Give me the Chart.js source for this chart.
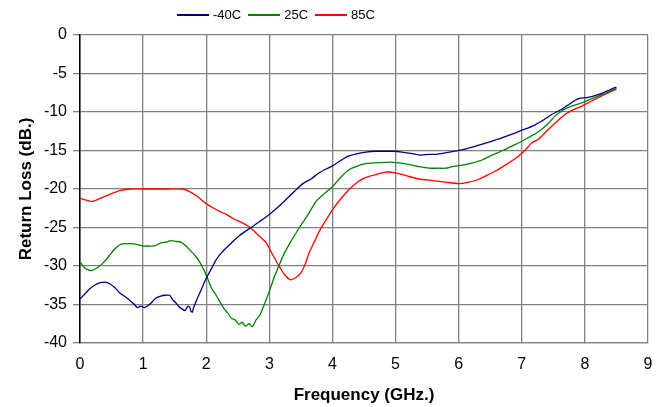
<!DOCTYPE html>
<html>
<head>
<meta charset="utf-8">
<script src="https://cdn.jsdelivr.net/npm/chart.js@4"></script>
<style>
  body { margin: 0; background: #fff; }
  #wrap { position: relative; width: 670px; height: 407px; }
  #legend { position: absolute; top: 7px; left: 177px; font: 13px "Liberation Sans", Arial, sans-serif; color: #000; display: flex; align-items: center; }
  #legend span.key { display: inline-block; width: 32px; height: 0; border-top: 2px solid; margin-right: 4px; }
  #legend span.item { display: inline-flex; align-items: center; margin-right: 7px; }
</style>
</head>
<body>
<div id="wrap">
  <canvas id="chart" width="670" height="407"></canvas>
  <div id="legend"></div>
</div>
<script>
// -40C
var freqCold = [0, 0.08, 0.15, 0.23, 0.31, 0.4, 0.47, 0.55, 0.63, 0.7, 0.78, 0.85, 0.91, 0.96, 1.02, 1.1, 1.2, 1.28, 1.36, 1.42,
    1.47, 1.52, 1.57, 1.62, 1.66, 1.68, 1.71, 1.74, 1.76, 1.78, 1.8, 1.82, 1.86, 1.92, 2.0, 2.08, 2.15, 2.23, 2.31, 2.4,
    2.52, 2.62, 2.73, 2.85, 3.0, 3.13, 3.26, 3.4, 3.53, 3.66, 3.79, 3.9, 4.0, 4.13, 4.26, 4.4, 4.53, 4.7, 4.85, 4.95,
    5.1, 5.27, 5.4, 5.53, 5.65, 5.79, 5.92, 6.06, 6.2, 6.32, 6.48, 6.64, 6.77, 6.9, 7.06, 7.2, 7.35, 7.48, 7.62, 7.75,
    7.82, 7.9, 8.05, 8.22, 8.35, 8.48, 8.5];
var lossCold = [-34.3, -33.6, -33.0, -32.5, -32.2, -32.1, -32.3, -32.8, -33.5, -33.9, -34.4, -34.9, -35.4, -35.2, -35.4, -35.0, -34.2, -33.9, -33.8, -33.8,
    -34.4, -34.8, -35.3, -35.6, -35.8, -35.6, -35.2, -35.4, -35.9, -36.0, -35.4, -35.0, -34.2, -33.1, -31.6, -30.4, -29.3, -28.4, -27.7, -27.0,
    -26.1, -25.5, -24.9, -24.2, -23.3, -22.4, -21.4, -20.3, -19.3, -18.7, -17.9, -17.4, -17.0, -16.3, -15.7, -15.4, -15.2, -15.1, -15.1, -15.1,
    -15.2, -15.4, -15.6, -15.5, -15.5, -15.3, -15.1, -14.9, -14.6, -14.3, -13.9, -13.5, -13.1, -12.7, -12.2, -11.7, -11.0, -10.3, -9.7, -9.0,
    -8.6, -8.25, -8.1, -7.7, -7.3, -6.8, -6.8];

// 25C
var freqRoom = [0, 0.08, 0.18, 0.28, 0.39, 0.47, 0.55, 0.62, 0.7, 0.8, 0.9, 0.99, 1.08, 1.18, 1.28, 1.36, 1.44, 1.52, 1.6, 1.68,
    1.76, 1.83, 1.89, 1.95, 2.0, 2.05, 2.1, 2.15, 2.22, 2.28, 2.34, 2.4, 2.46, 2.52, 2.57, 2.62, 2.68, 2.73, 2.79, 2.85,
    2.9, 2.95, 3.02, 3.08, 3.16, 3.24, 3.35, 3.47, 3.55, 3.63, 3.74, 3.87, 4.0, 4.13, 4.26, 4.4, 4.53, 4.7, 4.9, 5.06,
    5.2, 5.37, 5.53, 5.69, 5.8, 5.9, 6.06, 6.22, 6.38, 6.53, 6.7, 6.85, 6.98, 7.11, 7.22, 7.32, 7.42, 7.53, 7.61, 7.69,
    7.8, 7.96, 8.1, 8.22, 8.35, 8.48, 8.5];
var lossRoom = [-29.5, -30.3, -30.6, -30.2, -29.4, -28.6, -27.8, -27.3, -27.1, -27.1, -27.2, -27.4, -27.4, -27.4, -27.0, -26.9, -26.7, -26.8, -26.9, -27.4,
    -28.1, -28.7, -29.4, -30.3, -31.2, -32.2, -33.1, -33.7, -34.7, -35.5, -36.1, -36.8, -37.0, -37.6, -37.3, -37.8, -37.5, -37.9, -37.0, -36.4,
    -35.4, -34.4, -32.8, -31.4, -29.8, -28.3, -26.7, -25.1, -24.1, -23.1, -21.6, -20.6, -19.7, -18.5, -17.5, -17.0, -16.7, -16.6, -16.5, -16.6,
    -16.8, -17.1, -17.3, -17.3, -17.3, -17.1, -16.9, -16.6, -16.2, -15.6, -15.0, -14.4, -13.9, -13.3, -12.8, -12.2, -11.5, -10.5, -10.0, -9.6,
    -9.2, -8.8, -8.3, -7.9, -7.5, -7.0, -6.9];

// 85C
var freqHot = [0, 0.08, 0.18, 0.27, 0.36, 0.5, 0.63, 0.8, 1.0, 1.2, 1.4, 1.63, 1.73, 1.85, 2.0, 2.1, 2.21, 2.32, 2.42, 2.55,
    2.68, 2.8, 2.95, 3.05, 3.16, 3.25, 3.34, 3.42, 3.5, 3.57, 3.63, 3.71, 3.79, 3.9, 4.0, 4.13, 4.26, 4.4, 4.53, 4.7,
    4.84, 5.0, 5.18, 5.37, 5.58, 5.79, 6.0, 6.16, 6.3, 6.43, 6.6, 6.74, 6.85, 6.95, 7.06, 7.16, 7.27, 7.43, 7.56, 7.69,
    7.82, 7.96, 8.1, 8.22, 8.35, 8.48, 8.5];
var lossHot = [-21.2, -21.4, -21.6, -21.4, -21.1, -20.6, -20.2, -20.0, -20.0, -20.0, -20.0, -20.0, -20.3, -20.9, -21.9, -22.4, -22.9, -23.3, -23.8, -24.3,
    -24.9, -25.8, -27.0, -28.5, -30.1, -31.2, -31.8, -31.5, -30.9, -29.7, -28.3, -26.9, -25.5, -24.0, -22.7, -21.3, -20.1, -19.1, -18.5, -18.1,
    -17.8, -17.9, -18.3, -18.7, -18.9, -19.1, -19.3, -19.1, -18.8, -18.3, -17.6, -16.9, -16.3, -15.7, -14.9, -14.0, -13.5, -12.2, -11.2, -10.3,
    -9.7, -9.2, -8.6, -8.1, -7.6, -7.1, -7.0];

var seriesNames = ['-40C', '25C', '85C'];
var seriesColors = ['#000080', '#008000', '#ff0000'];

function toPoints(xs, ys) {
    return xs.map(function (x, i) { return { x: x, y: ys[i] }; });
}

var font = '"Liberation Sans", Arial, sans-serif';
var allData = [toPoints(freqCold, lossCold), toPoints(freqRoom, lossRoom), toPoints(freqHot, lossHot)];

var chart = new Chart(document.getElementById('chart'), {
    type: 'line',
    data: {
        datasets: allData.map(function (d, i) {
            return {
                label: seriesNames[i],
                data: d,
                borderColor: seriesColors[i],
                borderWidth: 1.3,
                pointRadius: 0,
                tension: 0.2,
                fill: false
            };
        })
    },
    options: {
        responsive: false,
        animation: false,
        layout: { padding: { top: 35, right: 22, left: 6, bottom: 0 } },
        plugins: { legend: { display: false }, tooltip: { enabled: false } },
        scales: {
            x: {
                type: 'linear',
                min: 0,
                max: 9,
                ticks: { stepSize: 1, color: '#000', font: { family: font, size: 16 }, padding: 12 },
                grid: { color: '#808080', lineWidth: 1.3, tickLength: 0 },
                border: { color: '#808080', width: 1.3 },
                title: { display: true, text: 'Frequency (GHz.)', color: '#000', font: { family: font, size: 17, weight: 'bold' }, padding: { top: 0, bottom: 1 } },
                afterFit: function (scale) { scale.height = 64; }
            },
            y: {
                min: -40,
                max: 0,
                ticks: { stepSize: 5, color: '#000', font: { family: font, size: 16 }, padding: 6 },
                grid: { color: '#808080', lineWidth: 1.3, tickLength: 7 },
                border: { color: '#000', width: 1.5 },
                title: { display: true, text: 'Return Loss (dB.)', color: '#000', font: { family: font, size: 17, weight: 'bold' }, padding: { top: 10, bottom: 0 } },
                afterFit: function (scale) { scale.width = 74; }
            }
        }
    }
});

// legend drawn from the datasets
var legend = document.getElementById('legend');
chart.data.datasets.forEach(function (ds) {
    var item = document.createElement('span');
    item.className = 'item';
    var key = document.createElement('span');
    key.className = 'key';
    key.style.borderTopColor = ds.borderColor;
    item.appendChild(key);
    item.appendChild(document.createTextNode(ds.label));
    legend.appendChild(item);
});
</script>
</body>
</html>
